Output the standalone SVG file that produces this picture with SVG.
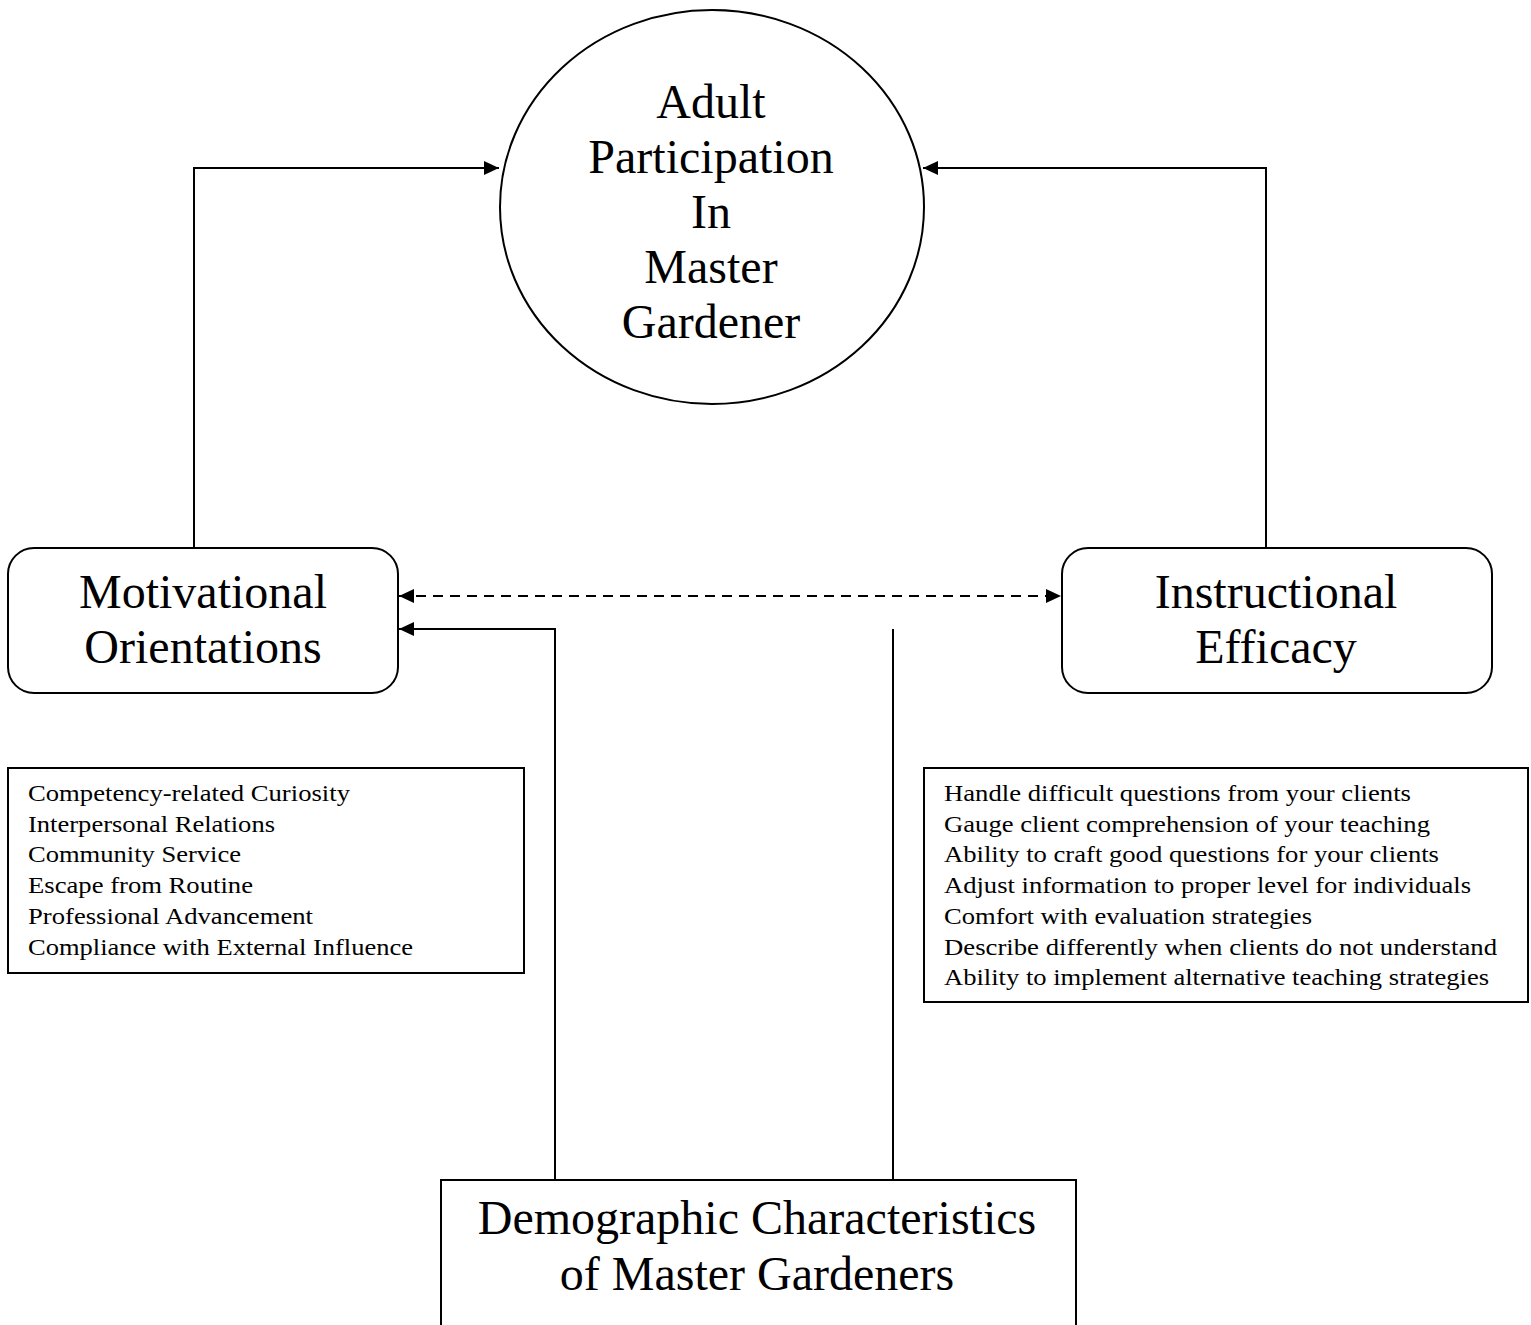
<svg xmlns="http://www.w3.org/2000/svg" width="1531" height="1325" viewBox="0 0 1531 1325">
<style>
.shape{fill:#fff;stroke:#000;stroke-width:2}
.conn{fill:none;stroke:#000;stroke-width:2}
.dash{stroke-dasharray:10 7}
.big{font-family:"Liberation Serif","Times New Roman",serif;font-size:48px;fill:#000;text-anchor:middle}
.list{font-family:"Liberation Serif","Times New Roman",serif;font-size:22.5px;fill:#000}
</style>
<defs>
<marker id="arr" markerUnits="userSpaceOnUse" markerWidth="16" markerHeight="14" refX="15" refY="7" orient="auto">
<path d="M0,0 L15,7 L0,14 Z" fill="#000"/>
</marker>
<marker id="arrS" markerUnits="userSpaceOnUse" markerWidth="16" markerHeight="14" refX="1" refY="7" orient="auto">
<path d="M16,0 L1,7 L16,14 Z" fill="#000"/>
</marker>
</defs>
<rect width="1531" height="1325" fill="#fff"/>
<g id="connectors">
<path class="conn" d="M194,548 V168 H499" marker-end="url(#arr)"/>
<path class="conn" d="M1266,548 V168 H923" marker-end="url(#arr)"/>
<path class="conn dash" d="M399,596 H1061" marker-start="url(#arrS)" marker-end="url(#arr)"/>
<path class="conn" d="M555,1180 V629 H399" marker-end="url(#arr)"/>
<path class="conn" d="M893,1180 V629"/>
</g>
<g id="adult-participation">
<ellipse class="shape" cx="712" cy="207" rx="212" ry="197"/>
<text class="big" x="711" y="118">Adult</text>
<text class="big" x="711" y="173">Participation</text>
<text class="big" x="711" y="228">In</text>
<text class="big" x="711" y="283">Master</text>
<text class="big" x="711" y="338">Gardener</text>
</g>
<g id="motivational-orientations">
<rect class="shape" x="8" y="548" width="390" height="145" rx="26"/>
<text class="big" x="203" y="608">Motivational</text>
<text class="big" x="203" y="663">Orientations</text>
</g>
<g id="instructional-efficacy">
<rect class="shape" x="1062" y="548" width="430" height="145" rx="26"/>
<text class="big" x="1276" y="608">Instructional</text>
<text class="big" x="1276" y="663">Efficacy</text>
</g>
<g id="motivation-list">
<rect class="shape" x="8" y="768" width="516" height="205"/>
<text class="list" x="28" y="801" textLength="322" lengthAdjust="spacingAndGlyphs">Competency-related Curiosity</text>
<text class="list" x="28" y="832" textLength="247" lengthAdjust="spacingAndGlyphs">Interpersonal Relations</text>
<text class="list" x="28" y="862" textLength="213" lengthAdjust="spacingAndGlyphs">Community Service</text>
<text class="list" x="28" y="893" textLength="225" lengthAdjust="spacingAndGlyphs">Escape from Routine</text>
<text class="list" x="28" y="924" textLength="285" lengthAdjust="spacingAndGlyphs">Professional Advancement</text>
<text class="list" x="28" y="955" textLength="385" lengthAdjust="spacingAndGlyphs">Compliance with External Influence</text>
</g>
<g id="efficacy-list">
<rect class="shape" x="924" y="768" width="604" height="234"/>
<text class="list" x="944" y="801" textLength="467" lengthAdjust="spacingAndGlyphs">Handle difficult questions from your clients</text>
<text class="list" x="944" y="832" textLength="486" lengthAdjust="spacingAndGlyphs">Gauge client comprehension of your teaching</text>
<text class="list" x="944" y="862" textLength="495" lengthAdjust="spacingAndGlyphs">Ability to craft good questions for your clients</text>
<text class="list" x="944" y="893" textLength="527" lengthAdjust="spacingAndGlyphs">Adjust information to proper level for individuals</text>
<text class="list" x="944" y="924" textLength="368" lengthAdjust="spacingAndGlyphs">Comfort with evaluation strategies</text>
<text class="list" x="944" y="955" textLength="553" lengthAdjust="spacingAndGlyphs">Describe differently when clients do not understand</text>
<text class="list" x="944" y="985" textLength="545" lengthAdjust="spacingAndGlyphs">Ability to implement alternative teaching strategies</text>
</g>
<g id="demographic-characteristics">
<rect class="shape" x="441" y="1180" width="635" height="150"/>
<text class="big" x="757" y="1234">Demographic Characteristics</text>
<text class="big" x="757" y="1290">of Master Gardeners</text>
</g>
</svg>
